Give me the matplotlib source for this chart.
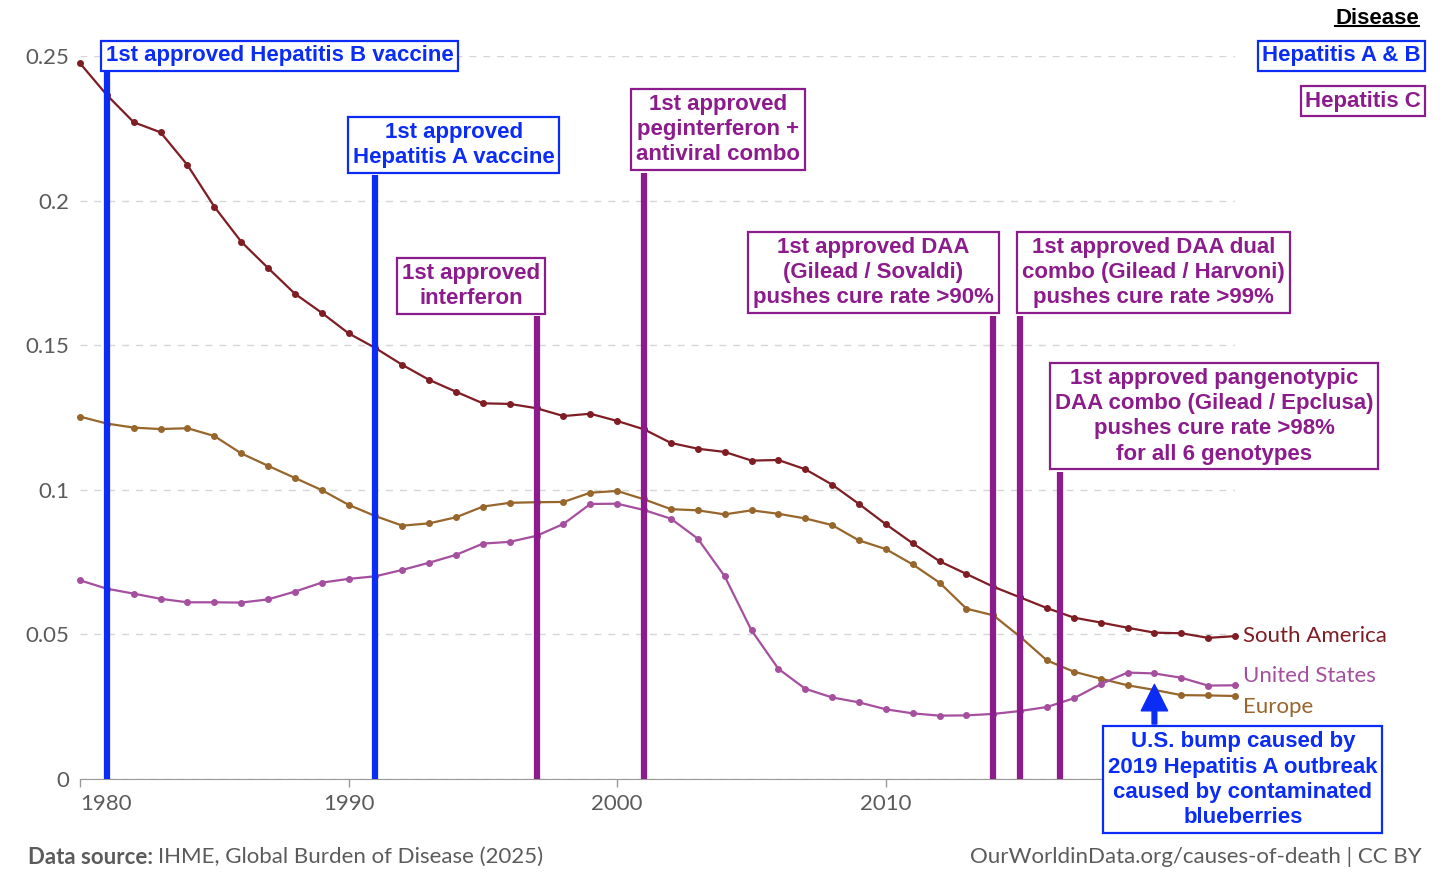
import numpy as np
import matplotlib.pyplot as plt
from matplotlib.patches import FancyArrowPatch, ArrowStyle
from matplotlib.lines import Line2D

# death rate from hepatitis, per 100,000
years = list(range(1980, 2024))
south_america = [0.2475, 0.2365, 0.2271, 0.2236, 0.2123, 0.1979, 0.1858, 0.1767, 0.1678, 0.1612,
                 0.1541, 0.1490, 0.1432, 0.1380, 0.1339, 0.1299, 0.1297, 0.1282, 0.1255, 0.1263,
                 0.1238, 0.1209, 0.1162, 0.1142, 0.1131, 0.1101, 0.1103, 0.1071, 0.1018, 0.0951,
                 0.0881, 0.0815, 0.0753, 0.0709, 0.0665, 0.0628, 0.0591, 0.0558, 0.0541, 0.0523,
                 0.0506, 0.0504, 0.0488, 0.0494]
europe = [0.1253, 0.1229, 0.1215, 0.1210, 0.1213, 0.1186, 0.1126, 0.1083, 0.1041, 0.0999,
          0.0948, 0.0909, 0.0876, 0.0884, 0.0905, 0.0942, 0.0955, 0.0957, 0.0958, 0.0990,
          0.0996, 0.0967, 0.0933, 0.0929, 0.0915, 0.0929, 0.0917, 0.0901, 0.0878, 0.0825,
          0.0795, 0.0742, 0.0679, 0.0589, 0.0566, 0.0492, 0.0410, 0.0371, 0.0347, 0.0324,
          0.0308, 0.0290, 0.0289, 0.0287]
united_states = [0.0687, 0.0658, 0.0641, 0.0623, 0.0611, 0.0611, 0.0610, 0.0621, 0.0648, 0.0679,
                 0.0692, 0.0701, 0.0723, 0.0748, 0.0775, 0.0814, 0.0820, 0.0841, 0.0882, 0.0951,
                 0.0952, 0.0930, 0.0900, 0.0831, 0.0701, 0.0514, 0.0381, 0.0312, 0.0282, 0.0265,
                 0.0241, 0.0227, 0.0219, 0.0220, 0.0225, 0.0235, 0.0249, 0.0279, 0.0328, 0.0368,
                 0.0365, 0.0350, 0.0323, 0.0324]
series_names = ["South America", "United States", "Europe"]

event_years = [1981, 1991, 1997, 2001, 2014, 2015, 2016.5]
event_disease = ["AB", "AB", "C", "C", "C", "C", "C"]
event_labels = [
    "1st approved Hepatitis B vaccine",
    "1st approved\nHepatitis A vaccine",
    "1st approved\ninterferon",
    "1st approved\npeginterferon +\nantiviral combo",
    "1st approved DAA\n(Gilead / Sovaldi)\npushes cure rate >90%",
    "1st approved DAA dual\ncombo (Gilead / Harvoni)\npushes cure rate >99%",
    "1st approved pangenotypic\nDAA combo (Gilead / Epclusa)\npushes cure rate >98%\nfor all 6 genotypes",
]
bump_label = "U.S. bump caused by\n2019 Hepatitis A outbreak\ncaused by contaminated\nblueberries"
bump_year = 2020

# layout of the annotation boxes (x in years, y in rate units)
box_xy = [(1987.43, 0.2500), (1993.91, 0.2192), (1994.56, 0.1705), (2003.74, 0.2246),
          (2009.53, 0.1751), (2019.96, 0.1751), (2022.23, 0.1255)]
line_tops = [0.2445, 0.2089, 0.1601, 0.2095, 0.1601, 0.1601, 0.1062]
bump_box_xy = (2023.29, -0.0003)

BLUE = "#0a2cf5"
PURPLE = "#8c1c8c"
c_sa = "#7f1d24"
c_us = "#a54f9f"
c_eu = "#97662c"
GREY = "#5b5b5b"
ANN_FONT = "Liberation Sans"
LAB_FONT = "Lato"
LS = 1.27

fig = plt.figure(figsize=(14.56, 8.96), dpi=100)
ax = fig.add_axes([80 / 1456, 1 - 779 / 896, 1155 / 1456, 723 / 896])

ax.plot(years, south_america, color=c_sa, lw=1.6, marker="o", ms=4, zorder=3, clip_on=False)
ax.plot(years, europe, color=c_eu, lw=1.6, marker="o", ms=4, zorder=3, clip_on=False)
ax.plot(years, united_states, color=c_us, lw=1.6, marker="o", ms=4, zorder=3, clip_on=False)

ax.set_xlim(1980, 2023)
ax.set_ylim(0, 0.25)
ax.set_yticks([0, 0.05, 0.1, 0.15, 0.2, 0.25])
ax.set_yticklabels(["0", "0.05", "0.1", "0.15", "0.2", "0.25"])
ax.set_xticks([1980, 1990, 2000, 2010])
ax.tick_params(axis="y", length=0, pad=8, labelsize=16, labelcolor=GREY)
ax.tick_params(axis="x", length=6, width=1, color="#999999", pad=5, labelsize=16, labelcolor=GREY)
for lab in ax.get_xticklabels() + ax.get_yticklabels():
    lab.set_family(LAB_FONT)
ax.get_xticklabels()[0].set_horizontalalignment("left")
ax.grid(axis="y", color="#d6d6d6", lw=1, dashes=(5, 5))
ax.set_axisbelow(True)
for s in ["top", "right", "left"]:
    ax.spines[s].set_visible(False)
ax.spines["bottom"].set_color("#999999")

# series end labels
last = [south_america[-1], united_states[-1], europe[-1]]
label_shift = [0, 6.5, -8]
for name, val, col, dy in zip(series_names, last, [c_sa, c_us, c_eu], label_shift):
    ax.annotate(name, xy=(years[-1], val), xytext=(6, dy), textcoords="offset points",
                va="center", ha="left", color=col, fontsize=16, family=LAB_FONT,
                annotation_clip=False)

# event lines and boxes
for yr, dis, txt, (bx, by), top in zip(event_years, event_disease, event_labels, box_xy, line_tops):
    col = BLUE if dis == "AB" else PURPLE
    ax.vlines(yr, 0, top, color=col, lw=4.5, zorder=4)
    ax.text(bx, by, txt, ha="center", va="center", multialignment="center",
            color=col, fontsize=16, fontweight="bold", family=ANN_FONT, linespacing=LS,
            zorder=6, clip_on=False,
            bbox=dict(boxstyle="square,pad=0.22", fc="white", ec=col, lw=1.6))

ax.text(bump_box_xy[0], bump_box_xy[1], bump_label, ha="center", va="center",
        multialignment="center", color=BLUE, fontsize=16, fontweight="bold",
        family=ANN_FONT, linespacing=LS, zorder=6, clip_on=False,
        bbox=dict(boxstyle="square,pad=0.22", fc="white", ec=BLUE, lw=1.6))
arrow = FancyArrowPatch((bump_year, 0.0190), (bump_year, 0.0327),
                        arrowstyle=ArrowStyle.Simple(head_length=19, head_width=19, tail_width=3.4),
                        color=BLUE, shrinkA=0, shrinkB=0, zorder=5, clip_on=False)
ax.add_patch(arrow)

# legend
fig.canvas.draw()
r = fig.canvas.get_renderer()
t = fig.text(1419 / 1456, 1 - 19 / 896, "Disease", ha="right", va="center", fontsize=16,
             fontweight="bold", family=ANN_FONT, color="black")
bb = t.get_window_extent(r).transformed(fig.transFigure.inverted())
fig.add_artist(Line2D([bb.x0, bb.x1], [bb.y0 + 0.004, bb.y0 + 0.004], color="black", lw=1.5,
                      transform=fig.transFigure))
fig.text(1421 / 1456, 1 - 56 / 896, "Hepatitis A & B", ha="right", va="center", fontsize=16,
         fontweight="bold", family=ANN_FONT, color=BLUE,
         bbox=dict(boxstyle="square,pad=0.2", fc="white", ec=BLUE, lw=1.6))
fig.text(1421 / 1456, 1 - 101 / 896, "Hepatitis C", ha="right", va="center", fontsize=16,
         fontweight="bold", family=ANN_FONT, color=PURPLE,
         bbox=dict(boxstyle="square,pad=0.2", fc="white", ec=PURPLE, lw=1.6))

# footer
t1 = fig.text(28 / 1456, 1 - 857 / 896, "Data source:", ha="left", va="center", fontsize=16,
              fontweight="bold", family=LAB_FONT, color=GREY)
bb1 = t1.get_window_extent(r).transformed(fig.transFigure.inverted())
fig.text(bb1.x1 + 5 / 1456, 1 - 857 / 896, "IHME, Global Burden of Disease (2025)", ha="left",
         va="center", fontsize=16, family=LAB_FONT, color=GREY)
fig.text(1422 / 1456, 1 - 857 / 896, "OurWorldinData.org/causes-of-death | CC BY", ha="right",
         va="center", fontsize=16, family=LAB_FONT, color=GREY)

plt.savefig("out.png", dpi=100, facecolor="white")
